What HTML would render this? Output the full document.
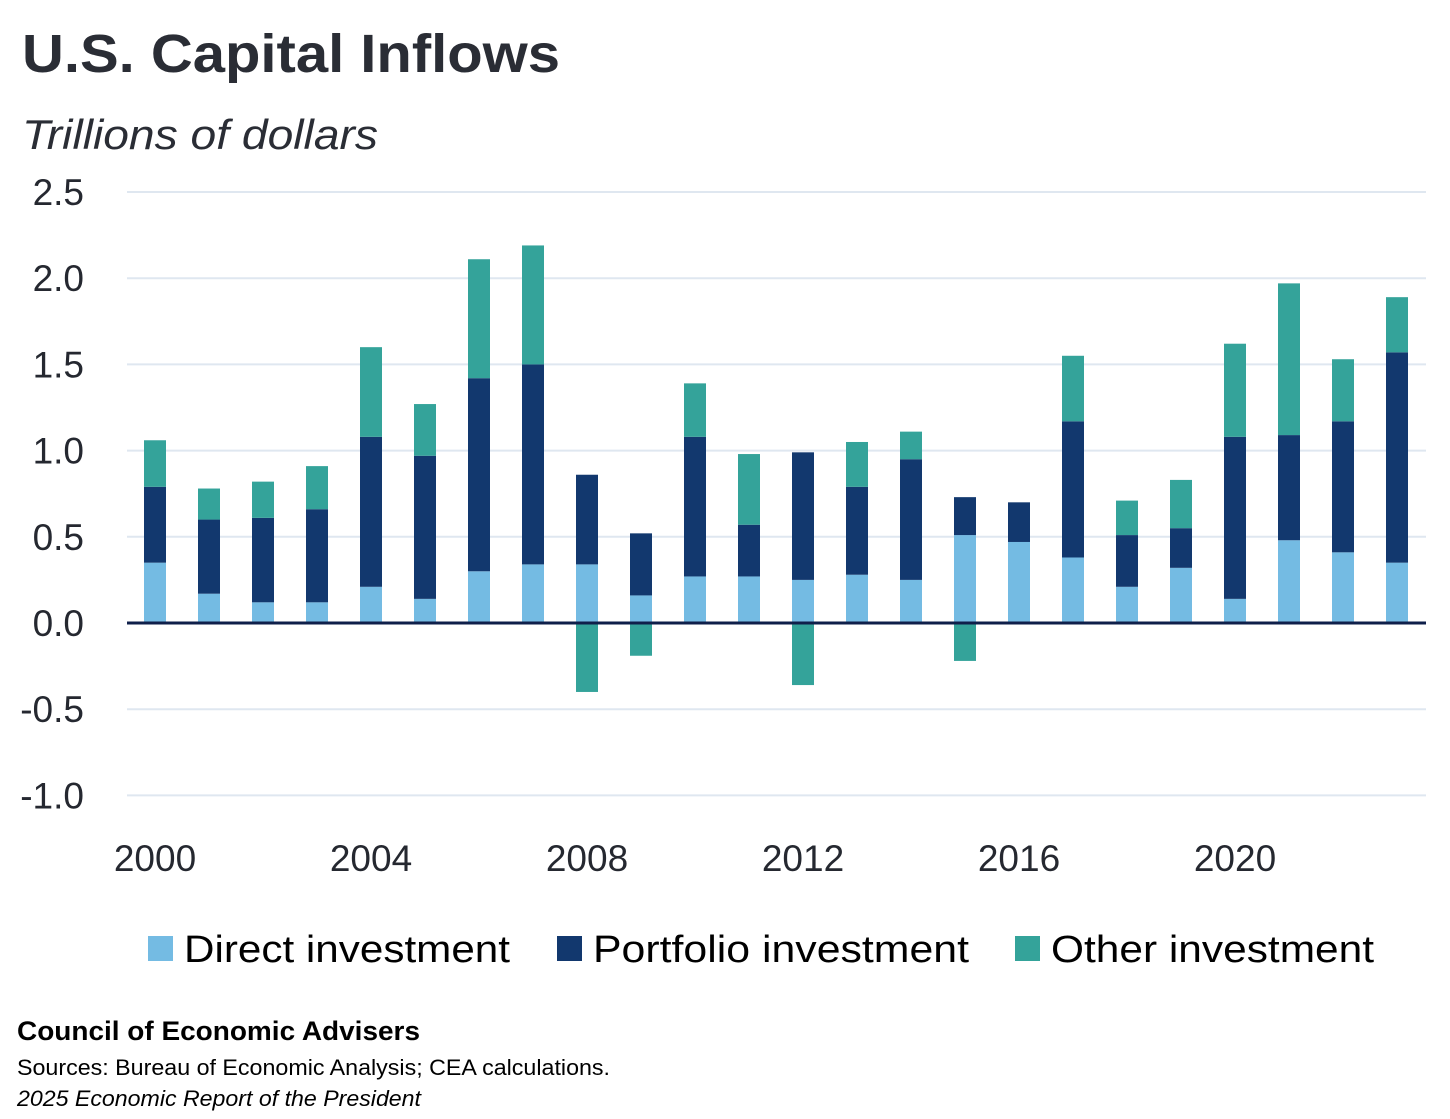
<!DOCTYPE html>
<html><head><meta charset="utf-8"><style>
body{margin:0;background:#fff;width:1450px;height:1114px;overflow:hidden;font-family:"Liberation Sans",sans-serif;color:#252830}
</style></head><body>
<svg width="1450" height="1114">
<text x="22" y="72" font-size="54" font-weight="bold" fill="#2a2d35" textLength="538" lengthAdjust="spacingAndGlyphs">U.S. Capital Inflows</text>
<text x="22" y="149" font-size="42" font-style="italic" fill="#2a2d35" textLength="356" lengthAdjust="spacingAndGlyphs">Trillions of dollars</text>
<g id="grid"></g><g id="bars"></g><g id="axes"></g>
<g>
<rect x="148" y="936" width="25" height="25" fill="#74bbe3"/>
<text x="184" y="962" font-size="38" textLength="326" lengthAdjust="spacingAndGlyphs">Direct investment</text>
<rect x="557" y="936" width="25" height="25" fill="#12386e"/>
<text x="593" y="962" font-size="38" textLength="376" lengthAdjust="spacingAndGlyphs">Portfolio investment</text>
<rect x="1015" y="936" width="25" height="25" fill="#34a39a"/>
<text x="1051" y="962" font-size="38" textLength="323" lengthAdjust="spacingAndGlyphs">Other investment</text>
</g>
<text x="17" y="1040" font-size="27" font-weight="bold" textLength="403" lengthAdjust="spacingAndGlyphs">Council of Economic Advisers</text>
<text x="17" y="1075" font-size="22" textLength="593" lengthAdjust="spacingAndGlyphs">Sources: Bureau of Economic Analysis; CEA calculations.</text>
<text x="17" y="1106" font-size="22" font-style="italic" textLength="404" lengthAdjust="spacingAndGlyphs">2025 Economic Report of the President</text>
</svg>
<script>
const years=[2000,2001,2002,2003,2004,2005,2006,2007,2008,2009,2010,2011,2012,2013,2014,2015,2016,2017,2018,2019,2020,2021,2022,2023];
const direct=[0.35,0.17,0.12,0.12,0.21,0.14,0.30,0.34,0.34,0.16,0.27,0.27,0.25,0.28,0.25,0.51,0.47,0.38,0.21,0.32,0.14,0.48,0.41,0.35];
const portfolio=[0.44,0.43,0.49,0.54,0.87,0.83,1.12,1.16,0.52,0.36,0.81,0.30,0.74,0.51,0.70,0.22,0.23,0.79,0.30,0.23,0.94,0.61,0.76,1.22];
const other=[0.27,0.18,0.21,0.25,0.52,0.30,0.69,0.69,-0.40,-0.19,0.31,0.41,-0.36,0.26,0.16,-0.22,0,0.38,0.20,0.28,0.54,0.88,0.36,0.32];
const yTicks=[2.5,2.0,1.5,1.0,0.5,0.0,-0.5,-1.0];
const xTicks=[2000,2004,2008,2012,2016,2020];
const NS="http://www.w3.org/2000/svg";
const y=v=>623-v*172.4;
const x=yr=>155+(yr-2000)*54;
const BW=22;
function mk(tag,attrs,parent){const e=document.createElementNS(NS,tag);for(const k in attrs)e.setAttribute(k,attrs[k]);document.getElementById(parent).appendChild(e);return e;}
yTicks.forEach(t=>{
 if(t!==0){const l=mk('line',{x1:127,x2:1426,y1:y(t),y2:y(t),stroke:'#dfe7f0','stroke-width':2},'grid');
 
 }
 const tx=mk('text',{x:84,y:y(t)+13,'font-size':37,'text-anchor':'end',fill:'#252830'},'axes');
 tx.textContent=(t<0?'-':'')+Math.abs(t).toFixed(1);
 
 
});
xTicks.forEach(t=>{
 const tx=mk('text',{x:x(t),y:871,'font-size':37,'text-anchor':'middle',fill:'#252830'},'axes');
 tx.textContent=t;
 
 
});
years.forEach((yr,i)=>{
 const cx=x(yr)-BW/2;
 const d=direct[i],p=portfolio[i],o=other[i];
 const r1=mk('rect',{x:cx,y:y(d),width:BW,height:y(0)-y(d),fill:'#74bbe3'},'bars');
 
 
 const r2=mk('rect',{x:cx,y:y(d+p),width:BW,height:y(d)-y(d+p),fill:'#12386e'},'bars');
 
 
 let r3;
 if(o>=0) r3=mk('rect',{x:cx,y:y(d+p+o),width:BW,height:y(d+p)-y(d+p+o),fill:'#34a39a'},'bars');
 else r3=mk('rect',{x:cx,y:y(0),width:BW,height:y(o)-y(0),fill:'#34a39a'},'bars');
 
 
});
const z=mk('line',{x1:127,x2:1426,y1:y(0),y2:y(0),stroke:'#0f1f4a','stroke-width':3},'axes');


</script>
</body></html>
